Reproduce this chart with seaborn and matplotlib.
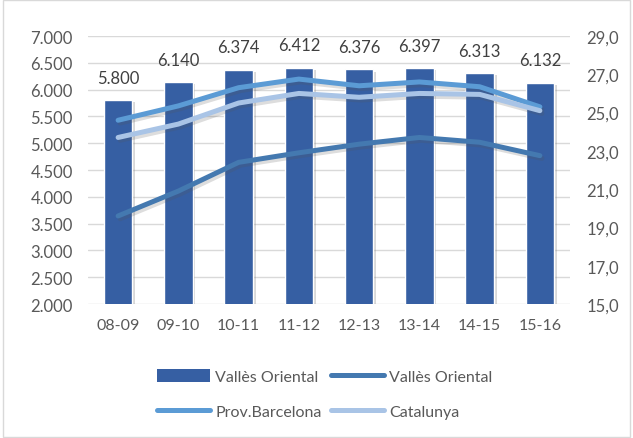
import matplotlib
matplotlib.use("Agg")
import matplotlib.pyplot as plt
import matplotlib.patheffects as pe
from matplotlib.patches import Patch, Rectangle
from matplotlib.lines import Line2D
import seaborn as sns
import pandas as pd
import numpy as np

categories = ["08-09", "09-10", "10-11", "11-12", "12-13", "13-14", "14-15", "15-16"]
bars_valles = [5800, 6140, 6374, 6412, 6376, 6397, 6313, 6132]
line_valles = [19.6, 20.9, 22.4, 22.9, 23.35, 23.7, 23.45, 22.75]
line_provbcn = [24.6, 25.35, 26.3, 26.75, 26.4, 26.6, 26.35, 25.3]
line_catalunya = [23.7, 24.4, 25.5, 26.0, 25.8, 26.0, 25.95, 25.1]

bar_label = "Vallès Oriental"
line_labels = ["Vallès Oriental", "Prov.Barcelona", "Catalunya"]

bar_color = "#365FA3"
line_colors = ["#4479B0", "#5B9BD5", "#A9C4E6"]
text_color = "#595959"

sns.set_theme(style="white")
plt.rcParams["font.family"] = ["Lato", "DejaVu Sans"]

fig = plt.figure(figsize=(6.33, 4.39), dpi=100)
ax = fig.add_axes([0.139, 0.3052, 0.7615, 0.6105])

df_bar = pd.DataFrame({"cat": categories, "val": bars_valles})
sns.barplot(data=df_bar, x="cat", y="val", color=bar_color, saturation=1,
            width=0.47, ax=ax, zorder=3)
for p in ax.patches:
    p.set_path_effects([pe.SimplePatchShadow(offset=(2, -1.5), shadow_rgbFace="#7f7f7f", alpha=0.3),
                        pe.Normal()])

for i, v in enumerate(bars_valles):
    ax.annotate(f"{v:,}".replace(",", "."), xy=(i, v), xytext=(0, 16),
                textcoords="offset points", ha="center", va="center",
                fontsize=12, color="#404040")

ax.set_ylim(2000, 7000)
ax.set_yticks(np.arange(2000, 7001, 500))
ax.set_yticklabels([f"{int(t):,}".replace(",", ".") for t in np.arange(2000, 7001, 500)])
ax.set_xlim(-0.5, len(categories) - 0.5)
ax.yaxis.grid(True, color="#D9D9D9", linewidth=1)
ax.set_axisbelow(True)
for s in ax.spines.values():
    s.set_visible(False)
ax.set_xlabel("")
ax.set_ylabel("")
ax.tick_params(axis="y", length=0, pad=11, labelsize=12, labelcolor=text_color)
ax.tick_params(axis="x", length=0, pad=10, labelsize=11.5, labelcolor=text_color)

ax2 = ax.twinx()
xpos = np.arange(len(categories))
for vals, col, lab in zip([line_valles, line_provbcn, line_catalunya], line_colors, line_labels):
    df_line = pd.DataFrame({"x": xpos, "y": vals})
    sns.lineplot(data=df_line, x="x", y="y", color=col, linewidth=3.6, ax=ax2,
                 solid_capstyle="round", solid_joinstyle="round",
                 path_effects=[pe.SimpleLineShadow(offset=(1.5, -2), shadow_color="#555555", alpha=0.2),
                               pe.Normal()])
ax2.set_ylim(15, 29)
ax2.set_yticks(np.arange(15, 29.01, 2))
ax2.set_yticklabels([f"{t:.1f}".replace(".", ",") for t in np.arange(15, 29.01, 2)])
ax2.set_xlim(-0.5, len(categories) - 0.5)
ax2.set_xlabel("")
ax2.set_ylabel("")
ax2.grid(False)
for s in ax2.spines.values():
    s.set_visible(False)
ax2.tick_params(axis="y", length=0, pad=12, labelsize=12, labelcolor=text_color)

h_bar = Patch(facecolor=bar_color, edgecolor="none")
h_lines = [Line2D([], [], color=c, linewidth=3.6, solid_capstyle="round") for c in line_colors]
# column-major fill: row1 = bar, Vallès line; row2 = Prov.Barcelona, Catalunya
handles = [h_bar, h_lines[1], h_lines[0], h_lines[2]]
labels = [bar_label, line_labels[1], line_labels[0], line_labels[2]]
leg = fig.legend(handles, labels, loc="center", bbox_to_anchor=(0.513, 0.1), ncol=2,
                 frameon=False, fontsize=11.5, handlelength=3.3, handleheight=0.8,
                 handletextpad=0.35, columnspacing=0.6, labelspacing=1.25)
for t in leg.get_texts():
    t.set_color(text_color)

fig.patches.append(Rectangle((0.004, 0.003), 0.992, 0.994, transform=fig.transFigure,
                             fill=False, edgecolor="#D9D9D9", linewidth=1))

fig.savefig("out.png", dpi=100)
